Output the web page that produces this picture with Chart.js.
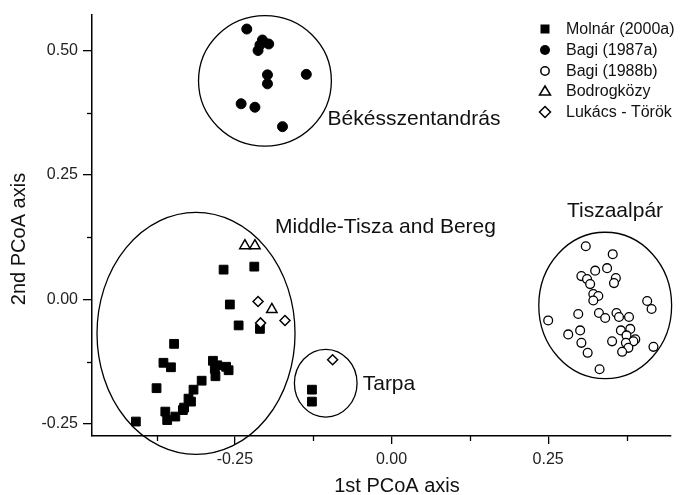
<!DOCTYPE html>
<html lang="en">
<head>
    <meta charset="UTF-8">
    <title>PCoA</title>
    <style>
        body { margin: 0; background: #fff; }
        #chart { display: block; }
    </style>
</head>
<body>
    <canvas id="chart" width="683" height="495"></canvas>

    <script src="https://cdn.jsdelivr.net/npm/chart.js"></script>
    <script>
        // series values [x, y]
        const molnar = [
            [-0.268, 0.060], [-0.219, 0.066], [-0.258, -0.010], [-0.244, -0.052], [-0.210, -0.059],
            [-0.347, -0.089], [-0.364, -0.127], [-0.352, -0.136], [-0.285, -0.123], [-0.278, -0.132],
            [-0.281, -0.154], [-0.264, -0.135], [-0.260, -0.142], [-0.282, -0.139], [-0.303, -0.163],
            [-0.375, -0.178], [-0.316, -0.181], [-0.324, -0.199], [-0.320, -0.205], [-0.331, -0.217],
            [-0.333, -0.222], [-0.361, -0.225], [-0.345, -0.235], [-0.358, -0.242], [-0.408, -0.245],
            [-0.127, -0.181], [-0.127, -0.205]
        ];
        const bagi1987 = [
            [-0.231, 0.543], [-0.206, 0.521], [-0.196, 0.513], [-0.213, 0.500], [-0.210, 0.511],
            [-0.198, 0.451], [-0.198, 0.433], [-0.136, 0.452], [-0.240, 0.393], [-0.218, 0.386],
            [-0.174, 0.347]
        ];
        const bagi1988 = [
            [0.310, 0.107], [0.353, 0.091], [0.325, 0.058], [0.344, 0.063], [0.303, 0.047],
            [0.312, 0.041], [0.317, 0.031], [0.358, 0.043], [0.355, 0.033], [0.322, 0.011],
            [0.330, 0.007], [0.322, -0.002], [0.408, -0.003], [0.415, -0.019], [0.298, -0.029],
            [0.331, -0.027], [0.341, -0.037], [0.359, -0.027], [0.363, -0.035], [0.379, -0.035],
            [0.250, -0.042], [0.301, -0.062], [0.282, -0.070], [0.366, -0.062], [0.381, -0.059],
            [0.375, -0.072], [0.389, -0.080], [0.386, -0.084], [0.303, -0.087], [0.352, -0.084],
            [0.374, -0.087], [0.378, -0.097], [0.418, -0.095], [0.313, -0.107], [0.368, -0.105],
            [0.332, -0.140]
        ];
        const bodrogkozy = [[-0.234, 0.108], [-0.218, 0.108], [-0.191, -0.020]];
        const lukacsTorok = [[-0.213, -0.004], [-0.209, -0.047], [-0.170, -0.042], [-0.094, -0.121]];

        const seriesNames = ['Molnár (2000a)', 'Bagi (1987a)', 'Bagi (1988b)', 'Bodrogközy', 'Lukács - Török'];

        // group ellipses: centre x, centre y, radius x, radius y (data units)
        const groupNames = ['Békésszentandrás', 'Middle-Tisza and Bereg', 'Tiszaalpár', 'Tarpa'];
        const groupEllipses = [
            [-0.202, 0.439, 0.106, 0.131],
            [-0.312, -0.068, 0.158, 0.243],
            [0.341, -0.012, 0.106, 0.147],
            [-0.105, -0.168, 0.050, 0.068]
        ];
        const groupLabelPos = [[-0.102, 0.362], [-0.186, 0.145], [0.280, 0.178], [-0.046, -0.170]];

        const xTicks = [-0.375, -0.25, -0.125, 0, 0.125, 0.25, 0.375];
        const yTicks = [-0.25, -0.125, 0, 0.125, 0.25, 0.375, 0.5];
        const xRange = [-0.478, 0.446];
        const yRange = [-0.274, 0.572];

        const FONT = '"Liberation Sans", Arial, sans-serif';
        const isMajor = v => Math.abs(v * 4 - Math.round(v * 4)) < 1e-9;
        const toPoints = arr => arr.map(p => ({ x: p[0], y: p[1] }));

        const extras = {
            id: 'extras',
            beforeDatasetsDraw(chart) {
                const ctx = chart.ctx, xs = chart.scales.x, ys = chart.scales.y;
                ctx.save();
                ctx.strokeStyle = '#000';
                ctx.lineWidth = 1.3;
                groupEllipses.forEach(e => {
                    const cx = xs.getPixelForValue(e[0]);
                    const cy = ys.getPixelForValue(e[1]);
                    const rx = Math.abs(xs.getPixelForValue(e[0] + e[2]) - cx);
                    const ry = Math.abs(ys.getPixelForValue(e[1] + e[3]) - cy);
                    ctx.beginPath();
                    ctx.ellipse(cx, cy, rx, ry, 0, 0, Math.PI * 2);
                    ctx.stroke();
                });
                ctx.restore();
            },
            afterDraw(chart) {
                const ctx = chart.ctx, xs = chart.scales.x, ys = chart.scales.y;
                const area = chart.chartArea;
                ctx.save();
                // short minor ticks
                ctx.strokeStyle = '#000';
                ctx.lineWidth = 1.3;
                xTicks.filter(v => !isMajor(v)).forEach(v => {
                    const px = Math.round(xs.getPixelForValue(v)) + 0.5;
                    ctx.beginPath();
                    ctx.moveTo(px, area.bottom);
                    ctx.lineTo(px, area.bottom + 5);
                    ctx.stroke();
                });
                yTicks.filter(v => !isMajor(v)).forEach(v => {
                    const py = Math.round(ys.getPixelForValue(v)) + 0.5;
                    ctx.beginPath();
                    ctx.moveTo(area.left, py);
                    ctx.lineTo(area.left - 5, py);
                    ctx.stroke();
                });

                // group labels
                ctx.fillStyle = '#111';
                ctx.font = '21px ' + FONT;
                ctx.textAlign = 'left';
                ctx.textBaseline = 'middle';
                groupNames.forEach((name, i) => {
                    ctx.fillText(name, xs.getPixelForValue(groupLabelPos[i][0]), ys.getPixelForValue(groupLabelPos[i][1]));
                });

                // axis titles
                ctx.font = '20px ' + FONT;
                ctx.textAlign = 'center';
                ctx.fillText('1st PCoA axis', 397, 486);
                ctx.save();
                ctx.translate(19, 239);
                ctx.rotate(-Math.PI / 2);
                ctx.fillText('2nd PCoA axis', 0, 0);
                ctx.restore();

                // legend
                const lx = 545, tx = 566, rowY = [29, 50, 71, 91, 112];
                ctx.font = '16px ' + FONT;
                ctx.textAlign = 'left';
                ctx.lineWidth = 1.5;
                seriesNames.forEach((name, i) => {
                    const y = rowY[i];
                    ctx.fillStyle = '#000';
                    ctx.strokeStyle = '#000';
                    ctx.beginPath();
                    if (i === 0) {
                        ctx.fillRect(lx - 4.5, y - 4.5, 9, 9);
                    } else if (i === 1) {
                        ctx.arc(lx, y, 5, 0, Math.PI * 2);
                        ctx.fill();
                    } else if (i === 2) {
                        ctx.arc(lx, y, 4.2, 0, Math.PI * 2);
                        ctx.stroke();
                    } else if (i === 3) {
                        ctx.moveTo(lx, y - 5);
                        ctx.lineTo(lx + 5.5, y + 4);
                        ctx.lineTo(lx - 5.5, y + 4);
                        ctx.closePath();
                        ctx.stroke();
                    } else {
                        ctx.moveTo(lx, y - 5.5);
                        ctx.lineTo(lx + 5.5, y);
                        ctx.lineTo(lx, y + 5.5);
                        ctx.lineTo(lx - 5.5, y);
                        ctx.closePath();
                        ctx.stroke();
                    }
                    ctx.fillStyle = '#111';
                    ctx.fillText(name, tx, y + 1);
                });
                ctx.restore();
            }
        };

        const base = { showLine: false, borderColor: '#000' };

        new Chart(document.getElementById('chart').getContext('2d'), {
            type: 'scatter',
            data: {
                datasets: [
                    Object.assign({ label: seriesNames[4], data: toPoints(lukacsTorok), pointStyle: 'rectRot', pointRadius: 5, backgroundColor: '#fff', borderWidth: 1.5 }, base),
                    Object.assign({ label: seriesNames[3], data: toPoints(bodrogkozy), pointStyle: 'triangle', pointRadius: 6, backgroundColor: '#fff', borderWidth: 1.5 }, base),
                    Object.assign({ label: seriesNames[2], data: toPoints(bagi1988), pointStyle: 'circle', pointRadius: 4.4, backgroundColor: '#fff', borderWidth: 1.3 }, base),
                    Object.assign({ label: seriesNames[1], data: toPoints(bagi1987), pointStyle: 'circle', pointRadius: 5, backgroundColor: '#000', borderWidth: 1 }, base),
                    Object.assign({ label: seriesNames[0], data: toPoints(molnar), pointStyle: 'rect', pointRadius: 6.2, backgroundColor: '#000', borderWidth: 1 }, base)
                ]
            },
            options: {
                responsive: false,
                animation: false,
                events: [],
                layout: { padding: { top: 13, right: 12, left: 0, bottom: 0 } },
                plugins: { legend: { display: false }, tooltip: { enabled: false } },
                scales: {
                    x: {
                        type: 'linear',
                        min: xRange[0],
                        max: xRange[1],
                        afterBuildTicks: axis => { axis.ticks = xTicks.map(v => ({ value: v })); },
                        afterFit: axis => { axis.height = 59; },
                        grid: {
                            drawOnChartArea: false,
                            tickLength: 8,
                            lineWidth: 1.3,
                            tickColor: c => (c.tick && isMajor(c.tick.value)) ? '#000' : 'rgba(0,0,0,0)'
                        },
                        border: { display: true, color: '#000', width: 1.5 },
                        ticks: {
                            autoSkip: false,
                            maxRotation: 0,
                            padding: 6,
                            color: '#222',
                            font: { family: FONT, size: 16 },
                            callback: v => isMajor(v) ? v.toFixed(2) : ''
                        }
                    },
                    y: {
                        type: 'linear',
                        min: yRange[0],
                        max: yRange[1],
                        afterBuildTicks: axis => { axis.ticks = yTicks.map(v => ({ value: v })); },
                        afterFit: axis => { axis.width = 92; },
                        grid: {
                            drawOnChartArea: false,
                            tickLength: 9,
                            lineWidth: 1.3,
                            tickColor: c => (c.tick && isMajor(c.tick.value)) ? '#000' : 'rgba(0,0,0,0)'
                        },
                        border: { display: true, color: '#000', width: 1.5 },
                        ticks: {
                            autoSkip: false,
                            padding: 5,
                            color: '#222',
                            font: { family: FONT, size: 16 },
                            callback: v => isMajor(v) ? v.toFixed(2) : ''
                        }
                    }
                }
            },
            plugins: [extras]
        });
    </script>
</body>
</html>
